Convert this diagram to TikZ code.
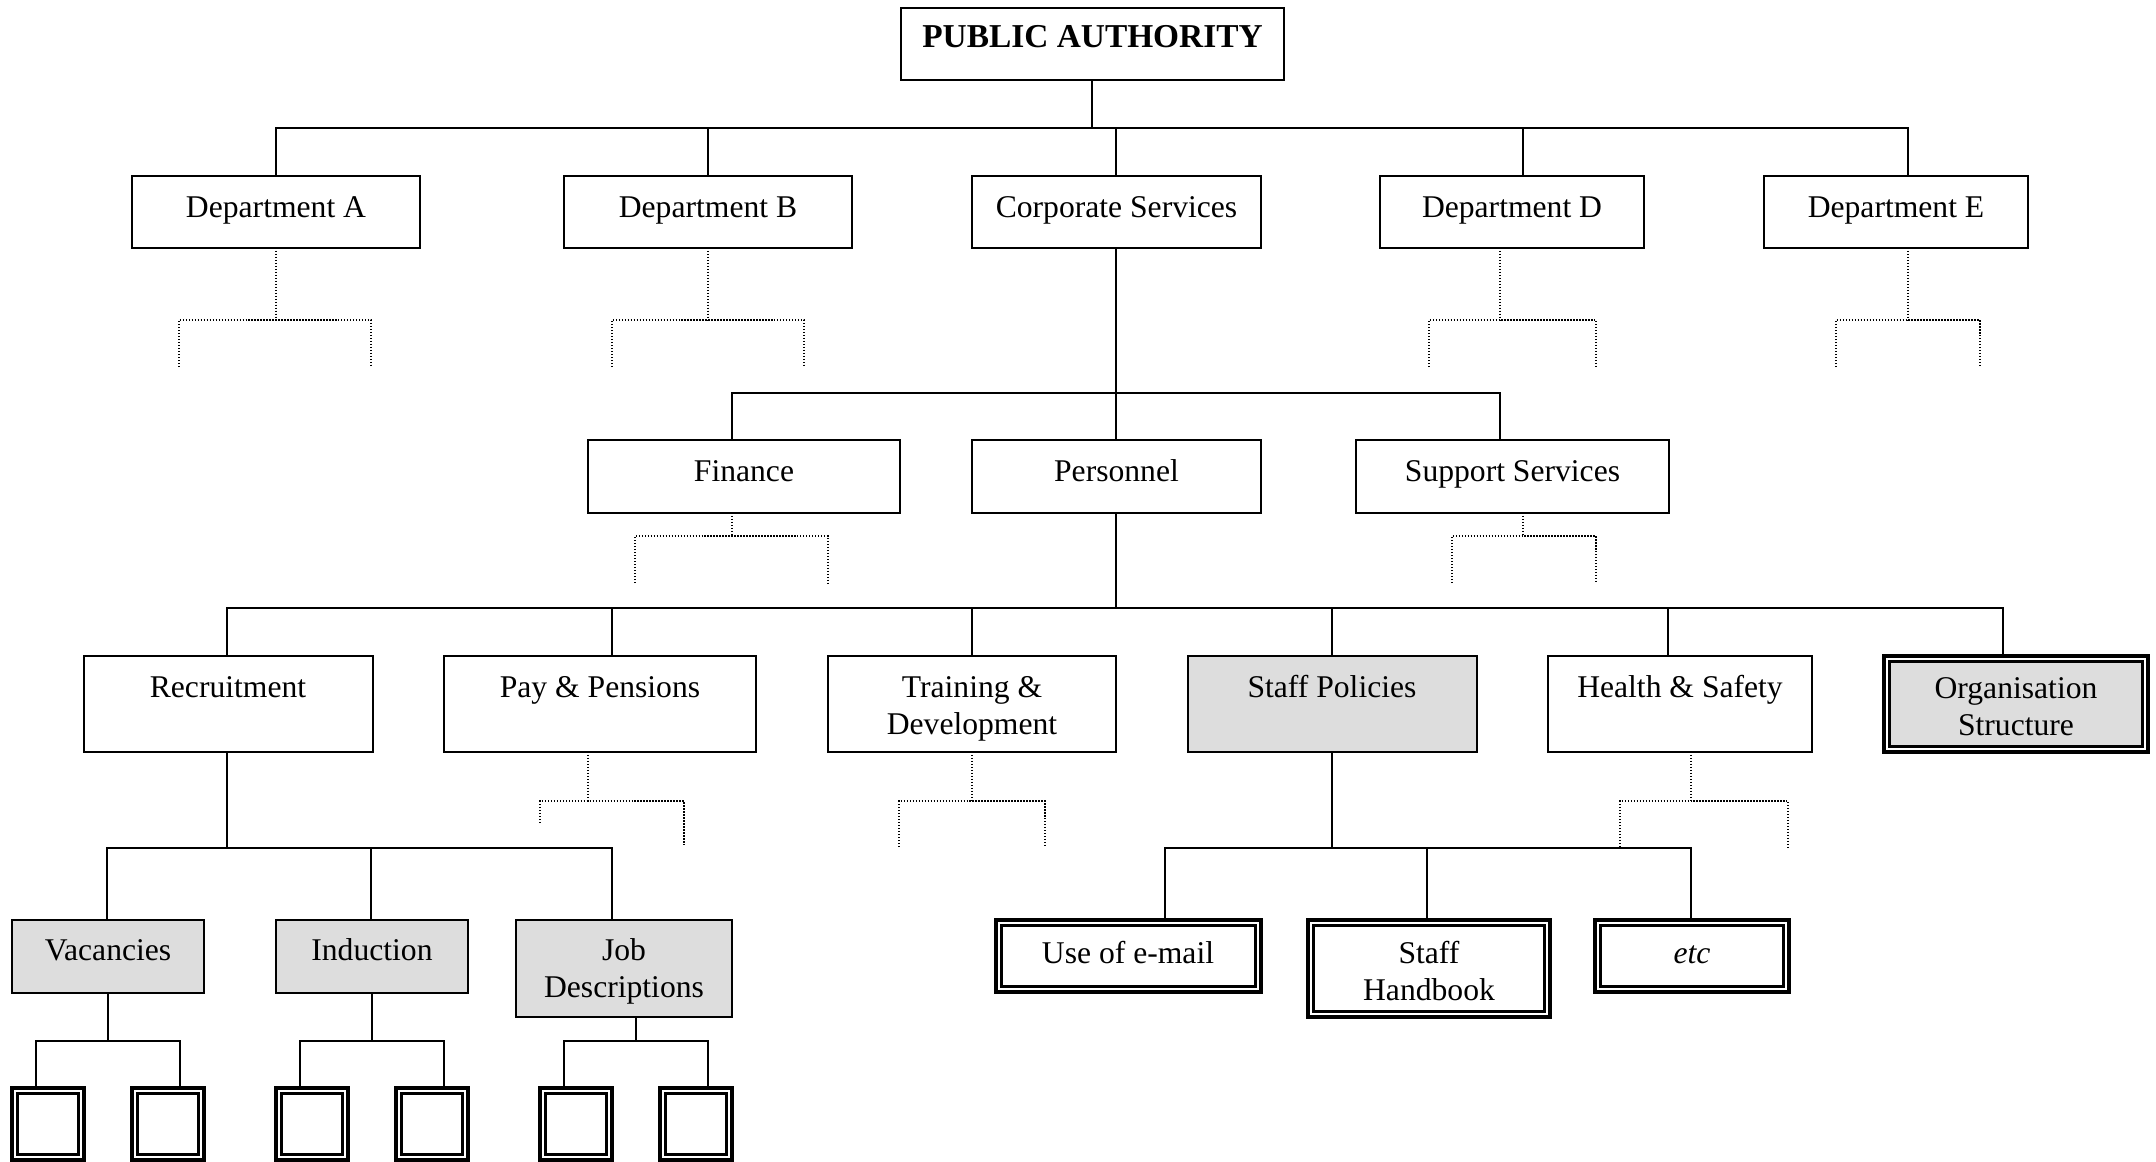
\documentclass[tikz,border=0pt]{standalone}
\usepackage{fontspec}
\setmainfont{Liberation Serif}
\usetikzlibrary{fit}
\definecolor{boxgray}{RGB}{221,221,221}
\newcommand\bx[6]{\node[#6, fit={(#2,#3) (#4,#5)}] (#1) {};}
\newcommand\dblbox[6]{%
  \node[dbl, fit={(#2,#3) (#4,#5)}] (#1) {};
  \draw[dblin, fill=#6] ([shift={(0.11cm,0.11cm)}]#1.south west) rectangle ([shift={(-0.11cm,-0.11cm)}]#1.north east);}
\newcommand\stub[8]{%
  \coordinate (#2m) at (#3,#4);
  \coordinate (#2l) at (#5,#6);
  \coordinate (#2r) at (#7,#8);
  \draw[dotc] (#1.south -| #2m) -- (#2m);
  \draw[dotc] (#2l) |- (#2m) -| (#2r);}
\begin{document}
\begin{tikzpicture}[x=0.02cm,y=-0.02cm,
  box/.style={draw, line width=1.2pt, inner sep=0pt, outer sep=0pt},
  gbox/.style={box, fill=boxgray},
  dbl/.style={draw, line width=1.8pt, inner sep=0pt, outer sep=0pt, fill=white},
  dblin/.style={draw, line width=1.2pt},
  conn/.style={line width=1.1pt, line cap=rect},
  dotc/.style={line width=1pt, dash pattern=on 0.8pt off 0.9pt},
  lbl/.style={font=\fontsize{18}{21}\selectfont, inner sep=0pt, align=center},
]
\useasboundingbox (0,0) rectangle (2156,1162);

% ---------- top ----------
\bx{pa}{901}{8}{1284}{80}{box}
\node[lbl, anchor=base, font=\fontsize{19}{22}\selectfont\bfseries] (pat) at (1092.5,48) {PUBLIC AUTHORITY};

% ---------- row 1 ----------
\bx{deptA}{132}{176}{420}{248}{box}
\bx{deptB}{564}{176}{852}{248}{box}
\bx{corp}{972}{176}{1261}{248}{box}
\bx{deptD}{1380}{176}{1644}{248}{box}
\bx{deptE}{1764}{176}{2028}{248}{box}
\node[lbl, anchor=base] (deptAt) at (276,217) {Department A};
\node[lbl, anchor=base] (deptBt) at (708,217) {Department B};
\node[lbl, anchor=base] (corpt) at (1116.5,217) {Corporate Services};
\node[lbl, anchor=base] (deptDt) at (1512,217) {Department D};
\node[lbl, anchor=base] (deptEt) at (1896,217) {Department E};

\coordinate (t0) at (1092,128);
\coordinate (tA) at (276,128);
\coordinate (tB) at (708,128);
\coordinate (tC) at (1116,128);
\coordinate (tD) at (1523,128);
\coordinate (tE) at (1908,128);
\draw[conn] (pa.south -| t0) -- (t0);
\draw[conn] (tA) -- (tE);
\foreach \n/\b in {tA/deptA, tB/deptB, tC/corp, tD/deptD, tE/deptE}
  \draw[conn] (\n) -- (\n |- \b.north);

\stub{deptA}{sa}{276}{320}{179}{367}{371}{367}
\stub{deptB}{sb}{708}{320}{612}{367}{804}{367}
\stub{deptD}{sd}{1500}{320}{1429}{367}{1596}{367}
\stub{deptE}{se}{1908}{320}{1836}{367}{1980}{367}

% ---------- row 2 ----------
\bx{fin}{588}{440}{900}{513}{box}
\bx{pers}{972}{440}{1261}{513}{box}
\bx{supp}{1356}{440}{1669}{513}{box}
\node[lbl, anchor=base] (fint) at (744,481) {Finance};
\node[lbl, anchor=base] (perst) at (1116.5,481) {Personnel};
\node[lbl, anchor=base] (suppt) at (1512.5,481) {Support Services};

\coordinate (c0) at (1116,393);
\coordinate (cF) at (732,393);
\coordinate (cS) at (1500,393);
\draw[conn] (corp.south -| c0) -- (c0);
\draw[conn] (cF) -- (cS);
\foreach \n/\b in {cF/fin, c0/pers, cS/supp}
  \draw[conn] (\n) -- (\n |- \b.north);

\stub{fin}{sf}{732}{536}{635}{583}{828}{583}
\stub{supp}{ss}{1523}{536}{1452}{583}{1596}{583}

% ---------- row 3 ----------
\bx{recr}{84}{656}{373}{752}{box}
\bx{pay}{444}{656}{756}{752}{box}
\bx{train}{828}{656}{1116}{752}{box}
\bx{staff}{1188}{656}{1477}{752}{gbox}
\bx{health}{1548}{656}{1812}{752}{box}
\dblbox{org}{1884}{656}{2148}{752}{boxgray}
\node[lbl, anchor=base] (recrt) at (228,697) {Recruitment};
\node[lbl, anchor=base] (payt) at (600,697) {Pay \& Pensions};
\node[lbl, anchor=base] (traint) at (972,734) {Training \&\\Development};
\node[lbl, anchor=base] (stafft) at (1332,697) {Staff Policies};
\node[lbl, anchor=base] (healtht) at (1680,697) {Health \& Safety};
\node[lbl, anchor=base] (orgt) at (2016,735) {Organisation\\Structure};

\coordinate (p0) at (1116,608);
\coordinate (pR) at (227,608);
\coordinate (pP) at (612,608);
\coordinate (pT) at (972,608);
\coordinate (pS) at (1332,608);
\coordinate (pH) at (1668,608);
\coordinate (pO) at (2003,608);
\draw[conn] (pers.south -| p0) -- (p0);
\draw[conn] (pR) -- (pO);
\foreach \n/\b in {pR/recr, pP/pay, pT/train, pS/staff, pH/health, pO/org}
  \draw[conn] (\n) -- (\n |- \b.north);

\stub{pay}{sp}{588}{801}{540}{823}{684}{847}
\stub{train}{st}{972}{801}{899}{847}{1045}{847}
\stub{health}{sh}{1691}{801}{1620}{847}{1788}{847}

% ---------- row 4 ----------
\bx{vac}{12}{920}{204}{993}{gbox}
\bx{ind}{276}{920}{468}{993}{gbox}
\bx{job}{516}{920}{732}{1017}{gbox}
\dblbox{email}{996}{920}{1261}{992}{white}
\dblbox{hand}{1308}{920}{1550}{1017}{white}
\dblbox{etc}{1595}{920}{1789}{992}{white}
\node[lbl, anchor=base] (vact) at (108,960) {Vacancies};
\node[lbl, anchor=base] (indt) at (372,960) {Induction};
\node[lbl, anchor=base] (jobt) at (624,997) {Job\\Descriptions};
\node[lbl, anchor=base] (emailt) at (1128,963) {Use of e-mail};
\node[lbl, anchor=base] (handt) at (1429,1000) {Staff\\Handbook};
\node[lbl, anchor=base] (etct) at (1692,963) {\itshape etc};

\coordinate (r0) at (227,848);
\coordinate (rV) at (107,848);
\coordinate (rI) at (371,848);
\coordinate (rJ) at (612,848);
\draw[conn] (recr.south -| r0) -- (r0);
\draw[conn] (rV) -- (rJ);
\foreach \n/\b in {rV/vac, rI/ind, rJ/job}
  \draw[conn] (\n) -- (\n |- \b.north);

\coordinate (s0) at (1332,848);
\coordinate (sE) at (1165,848);
\coordinate (sH) at (1427,848);
\coordinate (sX) at (1691,848);
\draw[conn] (staff.south -| s0) -- (s0);
\draw[conn] (sE) -- (sX);
\foreach \n/\b in {sE/email, sH/hand, sX/etc}
  \draw[conn] (\n) -- (\n |- \b.north);

% ---------- row 5 ----------
\dblbox{vacA}{12}{1088}{84}{1160}{white}
\dblbox{vacB}{132}{1088}{204}{1160}{white}
\dblbox{indA}{276}{1088}{348}{1160}{white}
\dblbox{indB}{396}{1088}{468}{1160}{white}
\dblbox{jobA}{540}{1088}{612}{1160}{white}
\dblbox{jobB}{660}{1088}{732}{1160}{white}

\coordinate (v0) at (108,1041);
\coordinate (vl) at (36,1041);
\coordinate (vr) at (180,1041);
\coordinate (i0) at (372,1041);
\coordinate (il) at (300,1041);
\coordinate (ir) at (444,1041);
\coordinate (j0) at (636,1041);
\coordinate (jl) at (564,1041);
\coordinate (jr) at (708,1041);
\draw[conn] (vac.south -| v0) -- (v0);
\draw[conn] (ind.south -| i0) -- (i0);
\draw[conn] (job.south -| j0) -- (j0);
\draw[conn] (vl) -- (vr);
\draw[conn] (il) -- (ir);
\draw[conn] (jl) -- (jr);
\foreach \n/\b in {vl/vacA, vr/vacB, il/indA, ir/indB, jl/jobA, jr/jobB}
  \draw[conn] (\n) -- (\n |- \b.north);
\end{tikzpicture}
\end{document}
